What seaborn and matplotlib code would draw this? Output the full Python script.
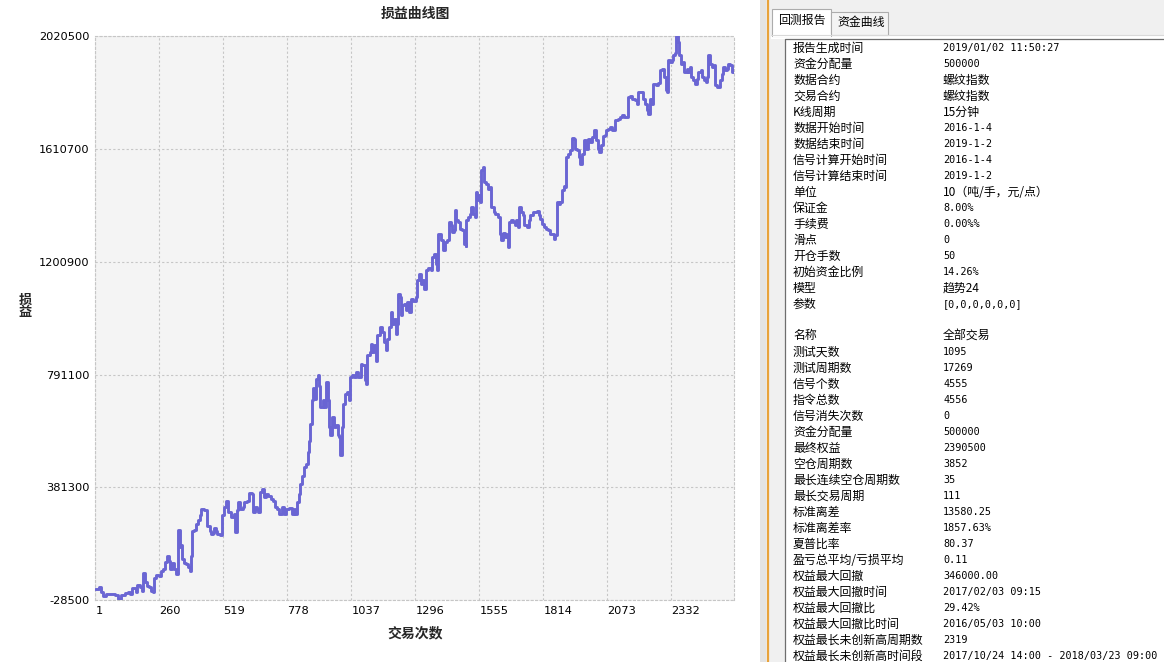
import matplotlib
matplotlib.use("Agg")
import matplotlib.pyplot as plt
import numpy as np
import pandas as pd
import seaborn as sns
from matplotlib.patches import Rectangle

# ---- equity curve: trade number vs. cumulative profit (yuan) ----
trade_no = [
    1, 16, 25, 32, 45, 66, 80, 93, 106, 120, 133, 143, 150, 164, 171, 181, 190, 194, 201, 211,
    218, 228, 235, 239, 248, 259, 266, 275, 282, 291, 299, 305, 313, 320, 326, 333, 337, 343, 347, 352,
    360, 369, 376, 383, 387, 391, 400, 407, 417, 426, 430, 441, 450, 454, 464, 470, 477, 481, 488, 495,
    504, 515, 523, 530, 537, 543, 550, 561, 568, 573, 580, 588, 597, 604, 615, 624, 634, 638, 647, 655,
    661, 667, 676, 682, 692, 701, 712, 721, 728, 736, 746, 755, 763, 773, 786, 796, 804, 809, 817, 824,
    831, 837, 844, 854, 861, 867, 871, 877, 882, 887, 894, 901, 908, 912, 921, 928, 935, 942, 946, 952,
    959, 966, 975, 982, 988, 992, 998, 1005, 1012, 1020, 1026, 1033, 1039, 1048, 1057, 1065, 1075, 1082,
    1091, 1095, 1102, 1112, 1116, 1122, 1129, 1136, 1142, 1152, 1162, 1169, 1176, 1183, 1190, 1196, 1203,
    1210, 1217, 1223, 1227, 1233, 1239, 1243, 1250, 1257, 1264, 1271, 1277, 1287, 1298, 1304, 1311, 1318,
    1324, 1331, 1338, 1349, 1358, 1362, 1372, 1379, 1383, 1388, 1395, 1401, 1408, 1415, 1426, 1432, 1439,
    1446, 1453, 1457, 1462, 1470, 1477, 1486, 1493, 1500, 1502, 1510, 1517, 1523, 1530, 1536, 1540, 1547,
    1551, 1557, 1562, 1570, 1575, 1583, 1589, 1597, 1602, 1608, 1613, 1620, 1630, 1638, 1643, 1651, 1660,
    1667, 1671, 1676, 1683, 1691, 1698, 1705, 1712, 1717, 1724, 1731, 1737, 1748, 1755, 1761, 1771, 1782,
    1789, 1795, 1802, 1809, 1816, 1825, 1833, 1840, 1849, 1856, 1863, 1869, 1876, 1883, 1890, 1897, 1903,
    1907, 1914, 1923, 1930, 1937, 1944, 1950, 1957, 1964, 1971, 1980, 1987, 1995, 2002, 2011, 2020, 2027,
    2034, 2041, 2048, 2056, 2065, 2069, 2075, 2084, 2091, 2097, 2104, 2115, 2124, 2134, 2142, 2149, 2156,
    2165, 2174, 2185, 2194, 2199, 2209, 2219, 2226, 2232, 2239, 2246, 2255, 2259, 2269, 2279, 2286, 2296,
    2304, 2311, 2316, 2320, 2327, 2334, 2340, 2347, 2351, 2358, 2363, 2371, 2378, 2385, 2394, 2401, 2408,
    2412, 2421, 2428, 2435, 2441, 2451, 2457, 2464, 2471, 2478, 2482, 2489, 2498, 2505, 2509, 2518, 2525,
    2529, 2536, 2542, 2549, 2556, 2563, 2570, 2576, 2583, 2587,
]
equity = [
    12000, 18000, 0, -15000, -8000, -6000, -12000, -24000, -12000, -4000,
    2000, -6000, 16000, 0, 27000, 18000, 6000, 69000, 36000, 24000,
    18000, 6000, 0, 51000, 64000, 57000, 76000, 85000, 109000, 130000,
    113000, 85000, 105000, 85000, 67000, 67000, 227000, 163000, 173000, 121000,
    105000, 101000, 91000, 76000, 133000, 224000, 227000, 249000, 261000, 279000,
    303000, 297000, 297000, 242000, 224000, 210000, 214000, 234000, 224000, 210000,
    209000, 279000, 309000, 333000, 291000, 291000, 273000, 285000, 218000, 297000,
    327000, 303000, 309000, 327000, 333000, 360000, 358000, 291000, 309000, 303000,
    291000, 363000, 376000, 345000, 355000, 351000, 339000, 333000, 309000, 303000,
    285000, 309000, 285000, 303000, 307000, 285000, 303000, 285000, 327000, 358000,
    394000, 424000, 454000, 467000, 509000, 551000, 612000, 697000, 743000, 703000,
    776000, 788000, 751000, 673000, 697000, 673000, 763000, 697000, 600000, 570000,
    636000, 600000, 606000, 570000, 563000, 497000, 600000, 685000, 721000, 727000,
    697000, 782000, 788000, 782000, 800000, 782000, 830000, 824000, 770000, 758000,
    861000, 873000, 903000, 873000, 897000, 842000, 933000, 963000, 945000, 909000,
    879000, 921000, 963000, 1018000, 976000, 994000, 939000, 976000, 1085000, 1072000,
    1006000, 1042000, 1048000, 1024000, 1054000, 1018000, 1067000, 1060000, 1072000, 1133000,
    1158000, 1121000, 1133000, 1103000, 1170000, 1179000, 1170000, 1218000, 1230000, 1194000,
    1170000, 1303000, 1303000, 1279000, 1242000, 1272000, 1279000, 1345000, 1333000, 1309000,
    1315000, 1388000, 1351000, 1345000, 1321000, 1315000, 1267000, 1260000, 1351000, 1363000,
    1376000, 1400000, 1376000, 1363000, 1454000, 1424000, 1442000, 1418000, 1533000, 1545000,
    1491000, 1485000, 1467000, 1472000, 1400000, 1400000, 1382000, 1376000, 1363000, 1303000,
    1279000, 1305000, 1291000, 1303000, 1254000, 1345000, 1354000, 1345000, 1333000, 1351000,
    1327000, 1400000, 1382000, 1370000, 1333000, 1327000, 1354000, 1370000, 1382000, 1382000,
    1385000, 1370000, 1358000, 1339000, 1327000, 1321000, 1315000, 1303000, 1303000, 1285000,
    1297000, 1418000, 1412000, 1418000, 1460000, 1475000, 1472000, 1582000, 1594000, 1606000,
    1652000, 1648000, 1612000, 1608000, 1582000, 1558000, 1594000, 1642000, 1612000, 1648000,
    1636000, 1654000, 1679000, 1642000, 1612000, 1600000, 1624000, 1657000, 1660000, 1679000,
    1685000, 1691000, 1679000, 1679000, 1715000, 1721000, 1727000, 1733000, 1727000, 1727000,
    1800000, 1802000, 1794000, 1788000, 1776000, 1818000, 1818000, 1794000, 1776000, 1751000,
    1739000, 1794000, 1776000, 1848000, 1842000, 1851000, 1897000, 1903000, 1872000, 1824000,
    1818000, 1933000, 1927000, 1933000, 1951000, 1958000, 2020500, 2000000, 1951000, 1921000,
    1927000, 1891000, 1903000, 1891000, 1909000, 1872000, 1860000, 1848000, 1867000, 1891000,
    1897000, 1872000, 1860000, 1854000, 1872000, 1951000, 1921000, 1909000, 1915000, 1842000,
    1836000, 1836000, 1860000, 1885000, 1909000, 1897000, 1903000, 1921000, 1915000, 1891000,
    1897000, 1890500,
]

x_ticks = [1, 260, 519, 778, 1037, 1296, 1555, 1814, 2073, 2332]
x_max = 2587
y_ticks = [-28500, 381300, 791100, 1200900, 1610700, 2020500]

# ---- report panel ----
report_labels = [
    "报告生成时间", "资金分配量", "数据合约", "交易合约", "K线周期", "数据开始时间",
    "数据结束时间", "信号计算开始时间", "信号计算结束时间", "单位", "保证金", "手续费",
    "滑点", "开仓手数", "初始资金比例", "模型", "参数",
]
report_values = [
    "2019/01/02 11:50:27", "500000", "螺纹指数", "螺纹指数", "15分钟", "2016-1-4",
    "2019-1-2", "2016-1-4", "2019-1-2", "10（吨/手，元/点）", "8.00%", "0.00%%",
    "0", "50", "14.26%", "趋势24", "[0,0,0,0,0,0]",
]
stats_labels = [
    "名称", "测试天数", "测试周期数", "信号个数", "指令总数", "信号消失次数", "资金分配量",
    "最终权益", "空仓周期数", "最长连续空仓周期数", "最长交易周期", "标准离差", "标准离差率",
    "夏普比率", "盈亏总平均/亏损平均", "权益最大回撤", "权益最大回撤时间", "权益最大回撤比",
    "权益最大回撤比时间", "权益最长未创新高周期数", "权益最长未创新高时间段",
]
stats_values = [
    "全部交易", "1095", "17269", "4555", "4556", "0", "500000",
    "2390500", "3852", "35", "111", "13580.25", "1857.63%",
    "80.37", "0.11", "346000.00", "2017/02/03 09:15", "29.42%",
    "2016/05/03 10:00", "2319", "2017/10/24 14:00 - 2018/03/23 09:00",
]
tab_names = ["回测报告", "资金曲线"]

sns.set_theme(style="white")
plt.rcParams["font.family"] = ["DejaVu Sans", "Noto Sans CJK SC"]
CJK = ["Noto Sans CJK SC", "DejaVu Sans"]
MONO = ["DejaVu Sans Mono", "Noto Sans CJK SC"]

W, H = 1164, 662
fig = plt.figure(figsize=(W / 100, H / 100), dpi=100)
fig.patch.set_facecolor("white")

# pixel-space layer for the side panel
bg = fig.add_axes([0, 0, 1, 1])
bg.set_xlim(0, W)
bg.set_ylim(H, 0)
bg.axis("off")

bg.add_patch(Rectangle((760, 0), W - 760, H, facecolor="#F0F0F0", edgecolor="none"))
bg.add_patch(Rectangle((760, 0), 6, H, facecolor="#E4E4E4", edgecolor="none"))
bg.plot([767.5, 767.5], [0, H], color="#E8A33C", lw=1.6, solid_capstyle="butt")
# tabs
bg.add_patch(Rectangle((771, 35), W - 771, 4, facecolor="#FFFFFF", edgecolor="none"))
bg.plot([771, W], [35, 35], color="#D9D9D9", lw=0.8)
bg.add_patch(Rectangle((772, 9), 59, 26.5, facecolor="#FFFFFF", edgecolor="#ACACAC", lw=0.8))
bg.add_patch(Rectangle((831, 12), 57, 23, facecolor="#F4F4F4", edgecolor="#ACACAC", lw=0.8))
bg.add_patch(Rectangle((772.5, 34), 58, 3, facecolor="#FFFFFF", edgecolor="none"))
bg.text(778, 20.5, tab_names[0], family=CJK, fontsize=8.6, ha="left", va="center", color="#000000")
bg.text(837, 22.5, tab_names[1], family=CJK, fontsize=8.6, ha="left", va="center", color="#000000")
# report box
bg.add_patch(Rectangle((785, 38.5), W - 785, H - 38.5, facecolor="#FFFFFF", edgecolor="none"))
bg.plot([785, 785, W], [H, 38.5, 38.5], color="#6E6E6E", lw=0.9)


def is_ascii(s):
    return all(ord(c) < 128 for c in s)


def put_rows(labels, values, y0):
    for i, (lab, val) in enumerate(zip(labels, values)):
        y = y0 + 16 * i
        bg.text(793, y, lab, family=CJK, fontsize=8.6, ha="left", va="center", color="#000000")
        if is_ascii(val):
            bg.text(943, y, val, family=MONO, fontsize=7.3, ha="left", va="center", color="#000000")
        else:
            bg.text(943, y, val, family=CJK, fontsize=8.6, ha="left", va="center", color="#000000")


put_rows(report_labels, report_values, 48.3)
put_rows(stats_labels, stats_values, 336.0)

# ---- equity chart ----
ax = fig.add_axes([95.3 / W, (H - 600) / H, 639 / W, 563.7 / H])
ax.set_facecolor("#F4F4F4")
df = pd.DataFrame({"trade": trade_no, "equity": equity})
sns.lineplot(data=df, x="trade", y="equity", ax=ax, color="#6A65D3", linewidth=2.1,
             drawstyle="steps-post", estimator=None, sort=False, zorder=3)
ax.set_xlim(1, x_max)
ax.set_ylim(y_ticks[0], y_ticks[-1])
ax.set_xticks(x_ticks)
ax.set_xticklabels([str(v) for v in x_ticks], ha="left")
ax.set_yticks(y_ticks)
ax.set_yticklabels([str(v) for v in y_ticks])
ax.set_xlabel("")
ax.set_ylabel("")
ax.grid(True, color="#C6C6C6", linestyle=(0, (2, 2)), linewidth=0.8, zorder=1)
ax.set_axisbelow(True)
for sp in ax.spines.values():
    sp.set_visible(True)
    sp.set_linestyle((0, (2, 2)))
    sp.set_color("#C6C6C6")
    sp.set_linewidth(0.8)
ax.tick_params(axis="both", length=2, width=0.8, color="#A8A8A8", labelsize=8.2,
               labelcolor="#000000", pad=2)

fig.text(415 / W, 1 - 14 / H, "损益曲线图", family=CJK, fontsize=10, fontweight="bold",
         ha="center", va="center")
fig.text(415 / W, 1 - 633 / H, "交易次数", family=CJK, fontsize=10, fontweight="bold",
         ha="center", va="center")
fig.text(25 / W, 1 - 306 / H, "损\n益", family=CJK, fontsize=9.5, fontweight="bold",
         ha="center", va="center", linespacing=0.9)

fig.savefig("out.png", dpi=100, facecolor="white")
